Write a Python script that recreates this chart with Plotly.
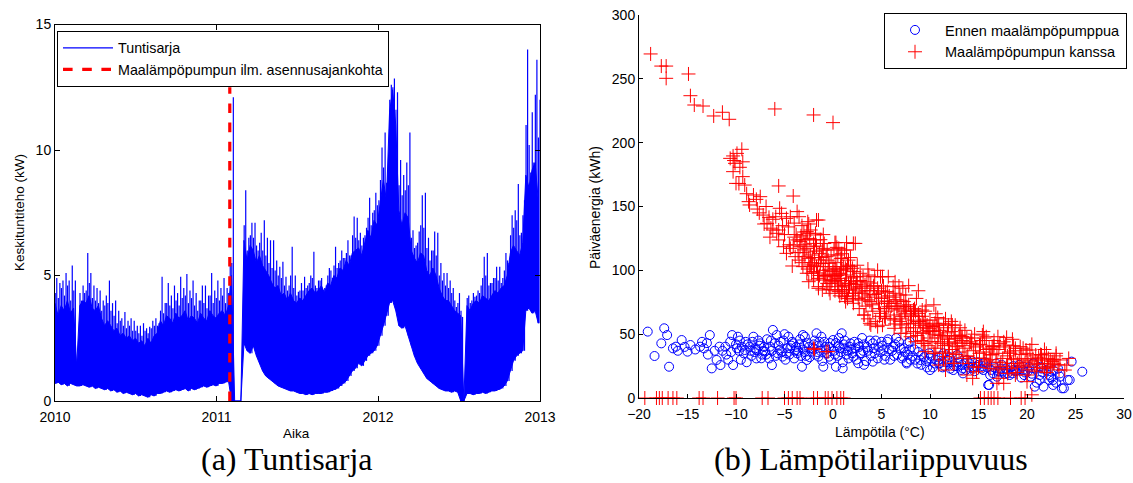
import pandas as pd
import plotly.graph_objects as go

W, H = 1133, 483

# ---- Hourly power series, summarised per week (kW) ----
weekly_peak_kw = [
    4.9, 4.7, 4.8, 5.1, 4.8, 5.4, 4.8, 1.6, 4.0, 4.3,
    5.9, 5.1, 4.6, 4.5, 4.4, 4.0, 4.2, 4.8, 3.9, 4.0,
    3.6, 3.3, 3.55, 3.2, 3.3, 3.2, 3.0, 3.0, 3.1, 2.9,
    2.96, 3.2, 3.3, 3.1, 4.95, 3.9, 4.7, 4.2, 4.6, 4.3,
    4.95, 4.5, 5.06, 4.4, 4.8, 4.3, 4.0, 4.6, 4.6, 4.2,
    5.1, 4.4, 4.8, 4.5, 4.9, 4.5, 5.4, 12.1, 0, 0,
    0, 8.4, 6.5, 7.1, 7.1, 6.0, 6.7, 7.2, 6.5, 6.4,
    6.4, 5.6, 5.35, 5.55, 4.95, 4.6, 6.15, 5.0, 4.35, 4.7,
    4.95, 4.6, 5.0, 5.95, 4.5, 4.8, 4.4, 4.6, 5.3, 4.9,
    6.15, 5.5, 6.0, 5.7, 6.4, 5.8, 7.35, 7.3, 6.7, 6.5,
    6.9, 8.1, 7.5, 8.3, 8.0, 10.1, 10.7, 9.2, 12.6, 12.85,
    12.3, 9.6, 9.0, 9.5, 10.7, 6.8, 6.2, 6.75, 8.2, 8.3,
    6.5, 6.0, 6.75, 6.7, 5.5, 5.1, 5.1, 4.8, 4.5, 3.75,
    4.3, 3.35, 0, 4.2, 4.0, 4.15, 4.4, 4.6, 5.75, 5.9,
    4.7, 4.9, 5.35, 5.35, 4.9, 5.9, 5.5, 7.4, 7.6, 8.65,
    6.7, 8.0, 14.0, 9.1, 9.5, 13.6, 12.0,
]
weekly_second_peak_kw = [
    4.3, 4.1, 4.5, 4.2, 4.6, 4.0, 4.4, 1.5, 4.3, 4.6,
    4.4, 4.7, 4.1, 4.0, 3.9, 3.6, 3.8, 3.9, 3.6, 3.4,
    3.1, 3.2, 3.0, 2.9, 3.0, 2.8, 2.8, 2.7, 2.6, 2.8,
    2.7, 2.9, 3.0, 3.0, 3.6, 3.5, 3.9, 3.8, 3.7, 4.0,
    3.8, 4.1, 4.2, 3.9, 4.1, 3.8, 3.6, 4.0, 3.9, 3.7,
    4.2, 3.9, 4.1, 4.0, 4.2, 3.9, 4.3, 5.5, 0, 0,
    0, 7.0, 6.0, 6.6, 6.5, 6.2, 6.3, 6.0, 5.8, 5.5,
    5.3, 5.2, 5.0, 4.9, 4.6, 4.4, 5.0, 4.5, 4.2, 4.4,
    4.4, 4.5, 4.7, 4.9, 4.6, 4.8, 4.9, 4.5, 5.0, 5.2,
    5.4, 5.3, 5.6, 5.7, 5.9, 5.8, 6.6, 6.5, 6.4, 6.2,
    6.6, 7.3, 7.0, 7.6, 7.8, 8.8, 9.3, 8.7, 12.0, 12.5,
    11.6, 8.6, 8.2, 8.4, 8.6, 6.5, 6.1, 6.3, 7.0, 6.9,
    6.1, 5.6, 6.0, 5.8, 5.0, 4.8, 4.6, 4.5, 4.3, 4.0,
    3.9, 3.6, 0, 4.1, 3.9, 4.3, 4.2, 4.3, 4.9, 5.0,
    4.6, 4.7, 4.9, 4.8, 4.7, 5.2, 5.6, 6.6, 6.9, 7.2,
    6.6, 7.4, 11.0, 10.2, 11.5, 12.2, 10.5,
]
weekly_band_top_kw = [
    3.9, 3.4, 3.8, 3.6, 4.0, 3.5, 3.7,
    1.4,
    3.8, 4.0, 3.9, 4.2, 3.7, 3.6, 3.8,
    3.3, 3.0, 3.2, 3.0, 2.8, 2.9, 2.6, 2.7, 2.5, 2.6, 2.4, 2.5,
    2.3, 2.4, 2.2, 2.5, 2.3, 2.6, 2.7,
    3.2, 3.0, 3.4, 3.3, 3.1, 3.5, 3.3, 3.4, 3.6, 3.2, 3.4, 3.3,
    3.1, 3.5, 3.3, 3.2, 3.6, 3.4, 3.3, 3.5, 3.6, 3.4, 3.8,
    5.0,
    0, 0, 0,
    6.4, 5.6, 6.2, 6.0, 5.5, 5.8,
    5.4, 5.2, 5.0, 4.7, 4.5, 4.6, 4.2, 4.3, 4.0,
    4.3, 4.0, 3.9, 4.1, 4.0, 4.2, 4.4, 4.5, 4.3, 4.4, 4.6, 4.3, 4.7, 4.6,
    5.0, 4.9, 5.3, 5.2, 5.6, 5.4, 5.9, 6.0, 6.1, 5.8, 6.3,
    6.8, 6.5, 7.2, 7.0, 8.0, 8.8, 8.0,
    11.5, 12.4, 11.0,
    7.6, 7.0, 7.5, 7.3,
    6.0, 5.7, 5.5, 5.9, 5.8, 5.2, 5.0, 5.3, 5.0,
    4.5, 4.2, 4.0, 4.0, 3.8, 3.6, 3.5,
    3.4, 0,
    3.8, 3.6, 3.9, 4.0, 3.9, 4.2, 4.1, 4.0, 4.2, 4.4, 4.3, 4.5, 4.6,
    5.0, 5.9, 6.2, 6.0, 5.8, 6.3,
    9.0, 8.5, 9.2, 9.5, 8.0,
]
weekly_base_kw = [
    0.7, 0.75, 0.65, 0.7, 0.6, 0.7, 0.65, 0.6, 0.6,
    0.65, 0.6, 0.55, 0.6, 0.5, 0.55, 0.5, 0.45, 0.5,
    0.4, 0.45, 0.35, 0.4, 0.3, 0.35, 0.3, 0.25, 0.3,
    0.2, 0.25, 0.2, 0.15, 0.25, 0.2, 0.3, 0.3,
    0.35, 0.4, 0.35, 0.4, 0.45, 0.4, 0.45, 0.5, 0.4, 0.5, 0.45, 0.5, 0.55,
    0.6, 0.55, 0.6, 0.65, 0.6, 0.7, 0.7, 0.75, 0.8,
    0.0,
    0, 0, 0,
    2.3, 2.0, 1.9, 2.2, 1.8,
    1.5, 1.2, 1.0, 0.9, 0.8, 0.7,
    0.6, 0.55, 0.5, 0.45, 0.4, 0.4, 0.35, 0.3, 0.3, 0.25, 0.3, 0.25, 0.3, 0.3,
    0.3, 0.35, 0.35, 0.4, 0.45, 0.5, 0.6, 0.7, 0.8, 1.0,
    1.2, 1.3, 1.5, 1.4, 1.6, 1.8, 1.9, 2.0, 2.2,
    2.6, 3.0, 3.4, 3.9, 4.0, 3.6,
    3.0, 2.9, 3.0, 2.6, 2.2, 1.8,
    1.5, 1.3, 1.1, 0.9, 0.8, 0.7, 0.6, 0.5,
    0.45, 0.4, 0.4, 0.35, 0.4, 0.35,
    0.0, 0.0,
    0.3, 0.3, 0.25, 0.3, 0.3, 0.35, 0.3, 0.35, 0.4, 0.4, 0.45, 0.5, 0.6,
    0.8, 1.2, 1.6, 1.8, 1.9, 2.0,
    3.6, 3.7, 3.5, 3.6, 3.1,
]
install_date = "2011-01-31"
install_line_kw = [0, 12.5]
year_ticks = ["2010-01-01", "2011-01-01", "2012-01-01", "2013-01-01"]
year_labels = ["2010", "2011", "2012", "2013"]

# ---- Daily energy vs. outdoor temperature: (°C, kWh) ----
before_points = [
    (-19.1, 52.0), (-18.4, 32.9), (-17.4, 54.6), (-17.7, 42.8), (-17.1, 49.3), (-16.9, 24.5),
    (-16.5, 38.9), (-16.2, 40.2), (-15.6, 45.4), (-15.0, 36.3), (-14.7, 41.5), (-13.7, 40.2),
    (-13.3, 38.9), (-12.7, 49.3), (-12.5, 23.2), (-12.0, 29.8), (-11.6, 25.8), (-11.7, 40.2),
    (-11.1, 40.2), (-10.6, 44.1), (-10.4, 49.3), (-10.3, 25.8), (-9.9, 38.9), (-9.8, 48.0),
    (-9.4, 40.2), (-9.1, 37.6), (-8.6, 40.2), (-8.2, 48.0), (-7.9, 37.6), (-7.5, 42.8),
    (-7.4, 31.1), (-7.0, 36.3), (-6.5, 40.2), (-6.3, 25.8), (-6.2, 53.3), (-5.8, 49.3),
    (-5.5, 37.6), (-5.2, 32.4), (-4.6, 48.0), (-4.4, 38.9), (-4.1, 42.8), (-3.7, 35.0),
    (-3.2, 24.5), (-3.1, 49.3), (-2.7, 29.8), (-2.2, 36.3), (-1.7, 50.7), (-1.5, 32.4),
    (-1.0, 24.5), (-0.8, 40.2), (-0.4, 32.4), (0.0, 45.4), (0.3, 24.5), (0.9, 50.7),
    (1.0, 23.2), (1.2, 38.9), (1.8, 42.8), (2.1, 32.4), (2.6, 27.2),
    (1.7, 40.2), (2.8, 35.0), (4.1, 42.8), (5.2, 37.6), (6.2, 40.2), (7.2, 32.4),
    (7.9, 44.1), (9.0, 29.8), (10.0, 21.9), (11.0, 27.2), (12.4, 21.9), (13.4, 19.3),
    (14.8, 24.5), (16.0, 10.2), (17.2, 20.6), (18.6, 21.9), (19.6, 24.5), (20.7, 27.2),
    (20.8, 8.9), (21.7, 8.9), (22.7, 14.1), (23.6, 7.6), (24.6, 28.5), (25.7, 20.6),
    (24.4, 14.1), (22.0, 21.9), (21.3, 18.0), (23.4, 19.3), (4.1, 28.5), (3.2, 26.0),
    (7.6, 27.0), (10.0, 31.1), (11.4, 35.0), (12.8, 33.7), (13.8, 29.8), (15.5, 27.2),
    (16.9, 16.7), (18.0, 19.3),
    (23.8, 7.6), (22.7, 10.2), (16.1, 10.2), (24.2, 14.1), (23.4, 16.7), (22.3, 14.1),
    (21.3, 14.1), (20.4, 16.7), (20.6, 27.2), (21.4, 24.5), (22.7, 21.9), (19.6, 21.9),
    (18.5, 19.3), (17.5, 20.6), (16.5, 19.3), (15.5, 21.9), (14.4, 24.5), (13.4, 23.2),
    (-9.2, 35), (-8.8, 42), (-8.4, 33), (-8.0, 39), (-7.7, 45), (-7.3, 34), (-7.1, 40),
    (-6.8, 46), (-6.6, 31), (-6.3, 37), (-6.0, 43), (-5.9, 33), (-5.6, 41), (-5.3, 36),
    (-5.1, 45), (-4.9, 30), (-4.7, 39), (-4.5, 34), (-4.2, 44), (-4.0, 31), (-3.8, 40),
    (-3.6, 37), (-3.4, 46), (-3.3, 33), (-3.0, 41), (-2.9, 36), (-2.6, 43), (-2.4, 32),
    (-2.1, 39), (-1.9, 45), (-1.8, 34), (-1.5, 41), (-1.3, 37), (-1.1, 29), (-0.9, 44),
    (-0.6, 35), (-0.4, 40), (-0.2, 30), (0.1, 37), (0.3, 43), (0.5, 33), (0.7, 39),
    (1.0, 28), (1.2, 45), (1.4, 34), (1.6, 31), (1.9, 38), (2.2, 44), (2.4, 30),
    (2.7, 40), (2.9, 35), (3.2, 42), (3.4, 29), (3.6, 37), (3.9, 33), (4.2, 39),
    (4.4, 45), (4.6, 31), (4.9, 36), (5.1, 41), (5.4, 33), (5.6, 44), (5.9, 30),
    (6.1, 37), (6.4, 42), (6.6, 34), (6.9, 39), (7.1, 31), (7.4, 36), (7.6, 28),
    (7.9, 38), (8.2, 33), (8.5, 30), (8.8, 36), (9.1, 26), (9.4, 32), (9.6, 29),
    (9.9, 35), (10.3, 24), (10.6, 30), (10.9, 27), (11.2, 33), (11.5, 25), (11.8, 30),
    (12.1, 23), (12.3, 28), (12.7, 25), (13.0, 31), (13.2, 22), (13.6, 27), (14.0, 24),
    (14.3, 29), (14.6, 21), (15.0, 26), (15.3, 23), (15.7, 28), (16.2, 18), (16.6, 24),
    (17.0, 21), (17.4, 26), (17.8, 23), (18.2, 18), (18.6, 25), (19.0, 22), (19.4, 16),
    (19.8, 20), (20.2, 24), (20.5, 19), (21.0, 12), (21.5, 23), (22.3, 18), (23.0, 12),
    (-11.0, 34), (-10.5, 36), (-10.0, 42), (-12.2, 37), (-13.0, 43), (-14.2, 38),
    (-15.3, 40), (-16.0, 37), (-9.6, 45), (-8.3, 44), (-7.9, 31), (-5.0, 50),
    (-2.9, 48), (-1.2, 48), (0.6, 47), (3.0, 47), (5.7, 46), (7.7, 43), (6.5, 47),
    (-9.7, 37), (-9.0, 44), (-8.5, 37), (-8.1, 36), (-7.6, 41), (-7.2, 37), (-6.9, 34),
    (-6.4, 45), (-5.7, 35), (-5.4, 44), (-4.8, 35), (-4.3, 41), (-3.9, 37), (-3.5, 42),
    (-3.1, 38), (-2.8, 33), (-2.5, 40), (-2.0, 42), (-1.6, 36), (-1.4, 44), (-0.7, 38),
    (-0.3, 43), (0.2, 34), (0.6, 41), (0.8, 36), (1.1, 42), (1.5, 37), (2.0, 35),
    (2.3, 39), (2.6, 43), (3.1, 37), (3.5, 40), (3.8, 45), (4.3, 35), (4.7, 40),
    (5.0, 44), (5.3, 30), (5.8, 38), (6.3, 33), (6.8, 44), (7.3, 39), (7.7, 34),
    (8.0, 30), (8.4, 38), (8.7, 27), (9.2, 34), (9.7, 24), (10.1, 33), (10.5, 27),
    (10.8, 32), (11.3, 24), (11.7, 28), (12.0, 32), (12.5, 25), (12.9, 28), (13.3, 26),
    (13.7, 22), (14.1, 27), (14.5, 23), (14.9, 28), (15.4, 25), (15.9, 24), (16.3, 22),
    (16.8, 27), (17.3, 23), (17.7, 19), (18.3, 24), (18.8, 21), (19.2, 26), (19.7, 18),
    (20.1, 21), (20.9, 23), (21.6, 20), (22.5, 16), (23.2, 23), (-13.5, 44), (-12.9, 34),
    (-11.4, 37), (-10.8, 30), (-9.5, 30), (-8.9, 28),
]
after_points = [
    (-18.8, 269.5), (-17.7, 260), (-17.2, 260), (-17.2, 250.4), (-14.9, 253.8), (-14.7, 236.8),
    (-14.3, 229.5), (-13.4, 228.7), (-12.3, 220.9), (-11.4, 223.8), (-10.7, 218.3), (-6.0, 226.4),
    (-2.0, 221.7), (0.0, 215.7),
    (-10.6, 187.7), (-10.3, 189.6), (-10.1, 183.8), (-9.9, 191.6), (-9.4, 194.8), (-10.3, 177.3),
    (-9.6, 180.7), (-9.3, 173.4), (-10.0, 168.1), (-9.1, 166.8), (-5.6, 166.1), (-4.1, 158.2),
    (-8.7, 153.8), (-8.6, 151.2), (-7.9, 155.6), (-7.5, 157.7), (-7.2, 143.3), (-6.8, 136.8),
    (-7.1, 136.3), (-6.6, 141.5), (-6.2, 131.6), (-5.6, 131.6), (-5.8, 129.0), (-5.5, 148.6),
    (-5.3, 144.6), (-4.8, 140.7), (-4.4, 142.0), (-3.7, 146.0), (-2.6, 138.1), (-1.7, 139.4),
    (-2.6, 129.0), (-2.3, 131.6), (-1.8, 129.0), (-5.6, 123.8), (-5.1, 118.5), (-4.8, 113.3),
    (-4.4, 117.2), (-4.1, 119.8), (-3.7, 123.8), (-3.4, 118.5), (-3.1, 113.8), (-3.9, 110.7),
    (-4.2, 103.4), (-3.4, 122.5), (-2.7, 117.2), (-2.3, 112.0), (-2.0, 118.5), (-1.8, 123.8),
    (-1.4, 113.3), (-1.0, 117.2), (-0.7, 110.7), (-2.4, 102.9), (-2.0, 99.0), (-1.7, 102.9),
    (-1.3, 105.5), (-0.8, 102.9), (-0.4, 105.5), (0.0, 102.9), (0.2, 121.7), (1.2, 115.9),
    (0.8, 109.4), (0.4, 100.3), (0.7, 97.7), (1.1, 102.9), (1.4, 100.3), (1.8, 102.9),
    (2.1, 121.1), (-1.0, 92.4), (-0.7, 87.2), (-0.2, 89.8), (0.2, 95.0), (0.5, 87.2),
    (0.9, 82.0), (1.2, 79.4), (1.6, 84.6), (1.9, 89.8), (2.1, 76.8), (2.3, 82.0),
    (-1.5, 85.9), (-2.0, 92.4), (-2.7, 97.7), (-3.1, 102.9), (-2.5, 109.4),
    (-2.0, 38.9), (-0.7, 36.3),
    (-2.5, 136.3), (-1.5, 139.4), (-2.7, 130.3), (-1.8, 127.7), (-3.2, 123.8), (-2.0, 121.1),
    (-1.1, 115.9), (0.3, 121.7), (0.1, 115.9), (1.4, 115.9), (2.3, 121.1), (0.9, 109.4),
    (-2.9, 110.7), (-2.3, 104.2), (-1.5, 108.1), (-1.0, 105.5), (-0.4, 100.3), (0.2, 101.6),
    (0.9, 100.3), (2.0, 101.6), (-2.2, 97.7), (-1.5, 93.7), (-0.8, 95.0), (-0.1, 96.3),
    (0.6, 93.7), (1.4, 96.3), (2.1, 95.0), (2.8, 97.7), (3.7, 96.3), (4.9, 95.0),
    (5.7, 95.0), (-2.5, 91.1), (-1.5, 87.2), (-0.6, 89.8), (0.2, 91.1), (0.9, 88.5),
    (1.6, 89.8), (2.5, 91.1), (3.3, 88.5), (4.2, 87.2), (5.2, 87.7), (6.8, 87.7),
    (-1.1, 84.6), (-0.3, 82.0), (0.6, 83.3), (1.4, 82.0), (2.1, 84.6), (3.0, 82.0),
    (3.8, 80.7), (4.7, 82.0), (5.6, 83.3), (6.4, 82.0), (7.5, 80.7), (1.3, 75.5),
    (2.1, 74.2), (3.0, 76.8), (3.8, 75.5), (4.7, 74.2), (5.6, 75.5), (6.4, 74.2),
    (7.3, 75.5), (3.2, 65.0), (3.8, 58.5), (4.9, 66.3), (5.7, 71.5), (6.6, 70.2),
    (7.5, 71.5), (8.3, 68.9), (5.4, 62.4), (6.3, 61.1), (7.1, 63.7), (8.0, 65.0),
    (8.8, 66.3), (9.2, 68.9), (6.3, 54.6), (7.1, 57.2), (8.0, 58.5), (8.8, 59.8),
    (9.7, 57.2), (10.5, 58.5), (11.4, 58.5), (12.3, 57.2), (7.5, 50.7), (8.3, 52.0),
    (9.2, 50.7), (10.0, 52.0), (10.9, 49.3), (11.8, 48.0), (12.6, 46.7), (13.3, 48.0),
    (8.5, 44.1), (9.3, 42.8), (10.2, 44.1), (11.1, 42.8), (11.9, 41.5), (12.8, 40.2),
    (9.5, 36.3), (10.5, 35.0), (11.6, 32.4), (12.4, 27.2), (10.9, 25.8), (11.6, 21.9),
    (-1.9, 38.1), (-0.5, 36.3),
    (1.4, 121.7), (0.6, 117.2), (0.8, 102.9), (1.3, 101.6), (2.4, 95.0), (2.9, 87.2),
    (3.6, 76.8), (4.3, 95.0), (5.1, 95.0), (6.2, 87.2), (6.9, 80.7), (7.6, 71.5),
    (8.5, 67.6), (9.3, 58.5), (9.9, 54.6), (10.9, 57.2), (11.9, 57.2), (13.3, 48.0),
    (14.3, 42.8), (15.4, 49.3), (16.4, 40.2), (17.8, 41.5), (18.8, 38.9), (19.9, 37.6),
    (20.9, 33.7), (21.8, 29.8), (22.6, 28.5), (3.2, 65.0), (3.9, 57.2), (4.6, 55.9),
    (5.3, 63.7), (7.0, 50.7), (8.0, 48.0), (9.4, 42.8), (10.4, 35.0), (11.4, 29.8),
    (12.5, 27.2), (13.8, 18.0), (14.5, 24.5), (15.6, 31.1), (16.9, 11.5), (18.0, 19.3),
    (19.4, 25.8), (20.1, 29.8), (21.1, 27.2), (22.1, 24.5), (22.8, 27.2), (23.9, 21.9),
    (17.1, 15.4), (18.8, 18.0),
    (13.1, 49.3), (15.8, 48.0), (17.9, 47.5), (17.2, 42.8), (16.5, 40.2), (15.1, 41.5),
    (14.1, 42.8), (19.3, 40.2), (20.3, 37.6), (21.5, 33.7), (22.4, 29.8), (23.4, 29.8),
    (24.1, 25.8), (18.3, 35.0), (19.0, 27.2), (17.2, 24.5), (16.2, 23.2), (14.8, 20.6),
    (14.4, 15.4), (17.6, 11.5), (20.0, 12.8), (16.2, 33.7), (15.1, 31.1), (13.8, 32.4),
    (-4.5, 120), (-4.0, 126), (-3.5, 108), (-3.0, 116), (-2.8, 124), (-2.2, 106),
    (-1.9, 115), (-1.6, 98), (-1.2, 110), (-0.9, 96), (-0.5, 108), (-0.3, 93),
    (0.0, 99), (0.3, 106), (0.5, 90), (0.8, 97), (1.0, 85), (1.3, 92),
    (1.5, 104), (1.7, 87), (2.0, 80), (2.2, 99), (2.4, 89), (2.6, 78),
    (2.8, 92), (3.0, 86), (3.3, 79), (3.5, 91), (3.8, 84), (4.0, 73),
    (4.2, 88), (4.5, 79), (4.8, 70), (5.0, 84), (5.3, 76), (5.5, 68),
    (5.8, 80), (6.0, 72), (6.3, 65), (6.5, 77), (6.8, 69), (7.0, 62),
    (7.3, 72), (7.5, 66), (7.8, 58), (8.0, 68), (8.3, 61), (8.5, 55),
    (8.8, 64), (9.0, 57), (9.3, 51), (9.5, 61), (9.8, 53), (10.0, 47),
    (10.3, 56), (10.5, 50), (10.8, 44), (11.0, 53), (11.3, 47), (11.5, 41),
    (11.8, 51), (12.0, 44), (12.3, 38), (12.5, 49), (12.8, 43), (13.0, 36),
    (13.3, 45), (13.6, 39), (13.9, 33), (14.2, 44), (14.5, 37), (14.8, 31),
    (15.2, 42), (15.5, 36), (15.8, 29), (16.1, 39), (16.4, 34), (16.8, 28),
    (17.1, 38), (17.5, 31), (17.9, 25), (18.2, 36), (18.6, 30), (19.0, 24),
    (19.4, 34), (19.8, 28), (20.2, 22), (20.6, 31), (21.0, 26), (21.4, 34),
    (21.8, 23), (22.2, 31), (22.6, 26), (23.0, 33), (23.3, 22),
    (-6.5, 126), (-5.2, 135), (-3.2, 135), (-1.0, 128), (-7.8, 148), (-6.2, 140),
    (-8.2, 159), (-9.7, 168), (0.5, 112), (1.8, 110), (3.6, 101), (4.6, 100),
    (6.4, 91), (7.2, 86), (8.6, 78), (9.6, 72), (10.6, 66), (11.6, 62),
    (12.6, 57), (13.6, 53), (14.6, 50), (15.6, 47), (16.6, 45), (17.6, 44),
    (18.6, 41), (19.6, 39), (8.8, 84), (7.8, 88), (10.4, 73),
    (-3.8, 128), (-3.3, 127), (-2.9, 120), (-2.4, 125), (-2.1, 110), (-1.7, 119),
    (-1.3, 124), (-0.9, 121), (-0.6, 116), (-0.2, 112), (0.4, 118), (0.9, 113),
    (1.6, 108), (2.5, 104), (-3.6, 114), (-3.2, 106), (-2.6, 101), (-1.9, 104),
    (-1.4, 96), (-1.0, 100), (-0.6, 97), (-0.1, 92), (0.4, 96), (0.8, 92),
    (1.2, 88), (1.8, 94), (2.3, 86), (2.7, 83), (-0.4, 85), (0.2, 84),
    (0.7, 80), (1.5, 78),
    (3.1, 95), (3.5, 84), (3.9, 90), (4.3, 81), (4.6, 86), (5.0, 78), (5.4, 83),
    (5.8, 74), (6.2, 79), (6.6, 72), (7.0, 76), (7.4, 68), (7.8, 73), (8.1, 64),
    (3.4, 72), (4.1, 68), (4.8, 64), (5.3, 70), (5.9, 62), (6.4, 58), (6.9, 60),
    (7.6, 55), (2.7, 70), (3.6, 62), (4.4, 60), (5.1, 57),
    (8.4, 70), (8.9, 60), (9.2, 64), (9.6, 55), (10.0, 61), (10.3, 52), (10.7, 57),
    (11.1, 49), (11.4, 55), (11.8, 46), (12.2, 52), (12.6, 43), (13.0, 49), (13.4, 41),
    (13.8, 47), (8.7, 49), (9.1, 45), (9.8, 41), (10.6, 39), (11.3, 36), (12.0, 35),
    (12.7, 34), (13.4, 31), (9.5, 68), (10.8, 63), (12.2, 60), (13.1, 55),
    (14.3, 47), (14.7, 40), (15.1, 35), (15.4, 45), (15.8, 38), (16.2, 30), (16.6, 41),
    (16.9, 35), (17.3, 28), (17.7, 40), (18.0, 33), (18.4, 27), (18.8, 37), (19.2, 31),
    (19.6, 25), (20.0, 35), (20.4, 29), (20.8, 24), (21.2, 32), (21.6, 27), (22.0, 35),
    (22.4, 24), (22.8, 30), (23.2, 26), (14.0, 27), (15.0, 24), (16.0, 26), (17.0, 22),
    (18.0, 23), (19.0, 20), (20.0, 18), (21.0, 21), (22.0, 20), (15.5, 52), (17.0, 48),
    (18.5, 46), (20.5, 42), (21.8, 38), (23.0, 35), (24.3, 31),
    (-7.6, 145), (-6.9, 150), (-6.4, 133), (-5.9, 142), (-5.0, 128), (-4.6, 134),
    (-4.0, 137), (-3.5, 142), (-3.0, 130), (-8.9, 160), (-9.3, 185), (-10.2, 186),
    # days with zero recorded energy
    (-19.4, 0), (-18.2, 0), (-17.9, 0), (-17.6, 0), (-17.0, 0), (-16.5, 0), (-16.1, 0),
    (-13.8, 0), (-13.4, 0), (-11.9, 0), (-10.2, 0), (-10.0, 0), (-7.3, 0), (-6.7, 0),
    (-5.0, 0), (-4.6, 0), (-4.2, 0), (-3.7, 0), (-3.4, 0), (-2.0, 0), (-1.6, 0),
    (-0.8, 0), (-0.5, 0), (-0.1, 0), (0.4, 0), (0.8, 0), (1.1, 0), (15.2, 0),
    (15.6, 0), (16.0, 0), (16.3, 0), (16.6, 0), (17.0, 0), (18.3, 0), (19.4, 0),
    (19.8, 0), (20.5, 2.5),
]

BLUE = "#0000ff"
RED = "#ff0000"
FONT = "Liberation Sans, Arial, Helvetica, sans-serif"

weeks = pd.date_range("2010-01-01", periods=len(weekly_peak_kw), freq="7D")
first_spike_t = weeks + pd.Timedelta(hours=12)
main_spike_t = weeks + pd.Timedelta(days=4)

# solid band of the hourly series: weekly upper level down to weekly base level
band_x = list(weeks) + list(weeks[::-1])
band_y = list(weekly_band_top_kw) + list(weekly_base_kw[::-1])

# individual hourly peaks rising out of the band
spike_x, spike_y = [], []
for t1, t2, lo, hi2, hi in zip(first_spike_t, main_spike_t, weekly_base_kw,
                               weekly_second_peak_kw, weekly_peak_kw):
    spike_x += [t1, t1, None, t2, t2, None]
    spike_y += [lo, hi2, None, lo, hi, None]

fig = go.Figure()

fig.add_trace(go.Scatter(
    x=band_x, y=band_y, mode="lines", fill="toself", fillcolor=BLUE,
    line=dict(color=BLUE, width=1), showlegend=False, hoverinfo="skip",
    xaxis="x", yaxis="y",
))
fig.add_trace(go.Scatter(
    x=spike_x, y=spike_y, mode="lines", line=dict(color=BLUE, width=1.2),
    name="Tuntisarja", legend="legend", xaxis="x", yaxis="y",
))
fig.add_trace(go.Scatter(
    x=[install_date, install_date], y=install_line_kw, mode="lines",
    line=dict(color=RED, width=3.2, dash="dash"),
    name="Maalämpöpumpun ilm. asennusajankohta", legend="legend",
    xaxis="x", yaxis="y",
))

fig.add_trace(go.Scatter(
    x=[p[0] for p in before_points], y=[p[1] for p in before_points],
    mode="markers", name="Ennen maalämpöpumppua", legend="legend2",
    marker=dict(symbol="circle-open", size=9, color=BLUE, line=dict(color=BLUE, width=1)),
    cliponaxis=False, xaxis="x2", yaxis="y2",
))
fig.add_trace(go.Scatter(
    x=[p[0] for p in after_points], y=[p[1] for p in after_points],
    mode="markers", name="Maalämpöpumpun kanssa", legend="legend2",
    marker=dict(symbol="cross-thin", size=10, color=RED, line=dict(color=RED, width=1)),
    cliponaxis=False, xaxis="x2", yaxis="y2",
))

axis_common = dict(
    showline=True, linecolor="black", linewidth=1, showgrid=False, zeroline=False,
    ticks="inside", tickcolor="black", automargin=False,
    tickfont=dict(family=FONT, size=14, color="black"),
)

fig.update_layout(
    width=W, height=H, margin=dict(l=0, r=0, t=0, b=0, autoexpand=False),
    paper_bgcolor="white", plot_bgcolor="white",
    font=dict(family=FONT, size=14, color="black"),
    xaxis=dict(
        domain=[55 / W, 540 / W], anchor="y", type="date",
        range=["2010-01-01", "2013-01-01"], tickvals=year_ticks, ticktext=year_labels,
        ticklen=5, mirror="ticks", ticklabelstandoff=3, **axis_common,
    ),
    yaxis=dict(
        domain=[1 - 401 / H, 1 - 24.5 / H], anchor="x", range=[0, 15],
        tickvals=[0, 5, 10, 15], ticklen=5, mirror="ticks", **axis_common,
    ),
    xaxis2=dict(
        domain=[639 / W, 1124 / W], anchor="y2", range=[-20, 30],
        tick0=0, dtick=5, ticklen=4, ticklabelstandoff=3, **axis_common,
    ),
    yaxis2=dict(
        domain=[1 - 398 / H, 1 - 15 / H], anchor="x2", range=[0, 300],
        tick0=0, dtick=50, ticklen=4, **axis_common,
    ),
    legend=dict(
        x=57 / W, y=1 - 31 / H, xanchor="left", yanchor="top",
        bgcolor="white", bordercolor="black", borderwidth=1,
        font=dict(family=FONT, size=14.3, color="black"), itemwidth=50,
    ),
    legend2=dict(
        x=884 / W, y=1 - 13 / H, xanchor="left", yanchor="top",
        bgcolor="white", bordercolor="black", borderwidth=1,
        font=dict(family=FONT, size=14.5, color="black"), itemwidth=50,
    ),
)

labels = [
    dict(text="Aika", x=296 / W, y=1 - 433 / H, size=13.5, angle=0),
    dict(text="Keskituntiteho (kW)", x=19 / W, y=1 - 213 / H, size=13.5, angle=-90),
    dict(text="Lämpötila (°C)", x=880 / W, y=1 - 432 / H, size=14, angle=0),
    dict(text="Päiväenergia (kWh)", x=595 / W, y=1 - 208 / H, size=14, angle=-90),
]
for lb in labels:
    fig.add_annotation(
        text=lb["text"], x=lb["x"], y=lb["y"], xref="paper", yref="paper",
        xanchor="center", yanchor="middle", showarrow=False, textangle=lb["angle"],
        font=dict(family=FONT, size=lb["size"], color="black"),
    )

captions = [("(a) Tuntisarja", 287), ("(b) Lämpötilariippuvuus", 871)]
for text, cx in captions:
    fig.add_annotation(
        text=text, x=cx / W, y=1 - 459 / H, xref="paper", yref="paper",
        xanchor="center", yanchor="middle", showarrow=False,
        font=dict(family="Liberation Serif, Times New Roman, serif", size=32, color="black"),
    )

fig.write_html("out.html")
